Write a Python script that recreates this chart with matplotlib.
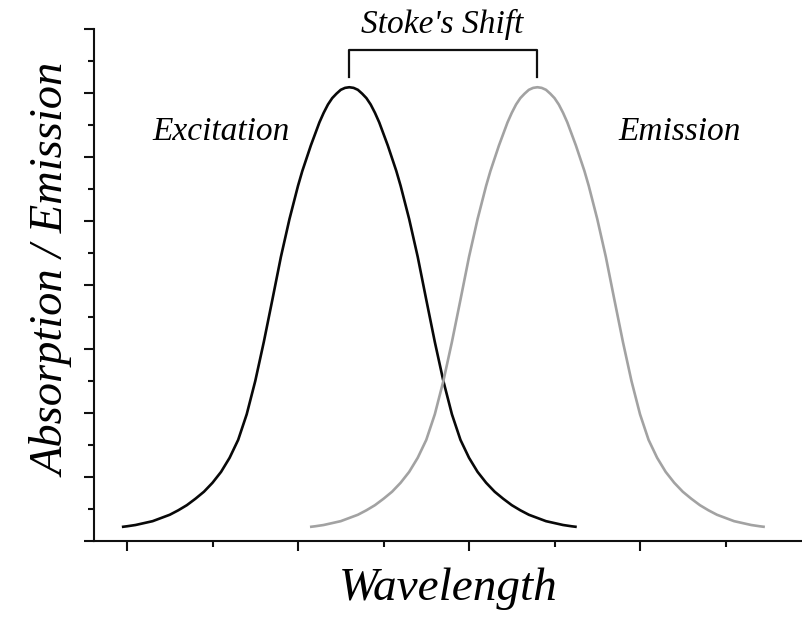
import matplotlib
matplotlib.use("Agg")
import matplotlib.pyplot as plt
from matplotlib.ticker import MultipleLocator, NullFormatter

# ---- data ----
exc_wl = [297, 300, 305, 310, 315, 320, 325, 330, 335, 340, 345, 350, 355, 360,
          365, 370, 375, 380, 385, 390, 395, 400, 402.5, 405, 407.5, 410, 412.5,
          415, 417.5, 420, 422.5, 425, 427.5, 430, 432.5, 435, 437.5, 440, 442.5,
          445, 447.5, 450, 452.5, 455, 457.5, 460, 465, 470, 475, 480, 485, 490,
          495, 500, 505, 510, 515, 520, 525, 530, 535, 540, 545, 550, 555, 560, 563]
exc_int = [0.22, 0.23, 0.25, 0.28, 0.31, 0.36, 0.41, 0.48, 0.56, 0.66, 0.77, 0.91,
           1.08, 1.30, 1.58, 1.98, 2.50, 3.11, 3.77, 4.44, 5.03, 5.55, 5.78, 5.98,
           6.18, 6.36, 6.54, 6.69, 6.82, 6.92, 6.99, 7.05, 7.08, 7.09, 7.08, 7.05,
           6.99, 6.92, 6.82, 6.69, 6.54, 6.36, 6.18, 5.98, 5.78, 5.55, 5.03, 4.44,
           3.77, 3.11, 2.50, 1.98, 1.58, 1.30, 1.08, 0.91, 0.77, 0.66, 0.56, 0.48,
           0.41, 0.36, 0.31, 0.28, 0.25, 0.23, 0.22]
em_wl = [407, 410, 415, 420, 425, 430, 435, 440, 445, 450, 455, 460, 465, 470,
         475, 480, 485, 490, 495, 500, 505, 510, 512.5, 515, 517.5, 520, 522.5,
         525, 527.5, 530, 532.5, 535, 537.5, 540, 542.5, 545, 547.5, 550, 552.5,
         555, 557.5, 560, 562.5, 565, 567.5, 570, 575, 580, 585, 590, 595, 600,
         605, 610, 615, 620, 625, 630, 635, 640, 645, 650, 655, 660, 665, 670, 673]
em_int = [0.22, 0.23, 0.25, 0.28, 0.31, 0.36, 0.41, 0.48, 0.56, 0.66, 0.77, 0.91,
          1.08, 1.30, 1.58, 1.98, 2.50, 3.11, 3.77, 4.44, 5.03, 5.55, 5.78, 5.98,
          6.18, 6.36, 6.54, 6.69, 6.82, 6.92, 6.99, 7.05, 7.08, 7.09, 7.08, 7.05,
          6.99, 6.92, 6.82, 6.69, 6.54, 6.36, 6.18, 5.98, 5.78, 5.55, 5.03, 4.44,
          3.77, 3.11, 2.50, 1.98, 1.58, 1.30, 1.08, 0.91, 0.77, 0.66, 0.56, 0.48,
          0.41, 0.36, 0.31, 0.28, 0.25, 0.23, 0.22]
exc_peak = 430
em_peak = 540
bracket_top = 7.67
bracket_leg = 7.25

plt.rcParams['font.family'] = ['Liberation Serif', 'DejaVu Serif']
plt.rcParams['font.style'] = 'italic'

fig = plt.figure(figsize=(8.03, 6.21), dpi=100)
ax = fig.add_axes([94 / 803, 80 / 621, (803 - 94) / 803, 512 / 621])

ax.plot(exc_wl, exc_int, color='#080808', lw=1.9, solid_capstyle='butt')
ax.plot(em_wl, em_int, color='#a2a2a2', lw=1.9, solid_capstyle='butt')

# Stoke's shift bracket
ax.plot([exc_peak, exc_peak, em_peak, em_peak],
        [bracket_leg, bracket_top, bracket_top, bracket_leg],
        color='#101010', lw=1.6, clip_on=False)
ax.text(484, 7.94, "Stoke's Shift", ha='center', va='baseline',
        fontsize=24, style='italic', clip_on=False)
ax.text(355, 6.27, "Excitation", ha='center', va='baseline', fontsize=24, style='italic')
ax.text(623, 6.27, "Emission", ha='center', va='baseline', fontsize=24, style='italic')

ax.set_xlim(280.7, 695.3)
ax.set_ylim(0, 8)

for s in ['top', 'right']:
    ax.spines[s].set_visible(False)
for s in ['left', 'bottom']:
    ax.spines[s].set_linewidth(1.5)
    ax.spines[s].set_color('#101010')

ax.xaxis.set_major_locator(MultipleLocator(100))
ax.xaxis.set_minor_locator(MultipleLocator(50))
ax.yaxis.set_major_locator(MultipleLocator(1))
ax.yaxis.set_minor_locator(MultipleLocator(0.5))
ax.xaxis.set_major_formatter(NullFormatter())
ax.yaxis.set_major_formatter(NullFormatter())
ax.tick_params(which='major', direction='out', length=7.5, width=1.5, color='#101010')
ax.tick_params(which='minor', direction='out', length=4.3, width=1.5, color='#101010')

ax.set_xlabel('Wavelength', fontsize=34, style='italic', va='baseline')
ax.xaxis.set_label_coords(0.5, (541 - 600) / 512)
ax.set_ylabel('Absorption / Emission', fontsize=33.5, style='italic', va='baseline')
ax.yaxis.set_label_coords((65 - 94) / 709, 0.529)

fig.savefig('out.png', dpi=100)
